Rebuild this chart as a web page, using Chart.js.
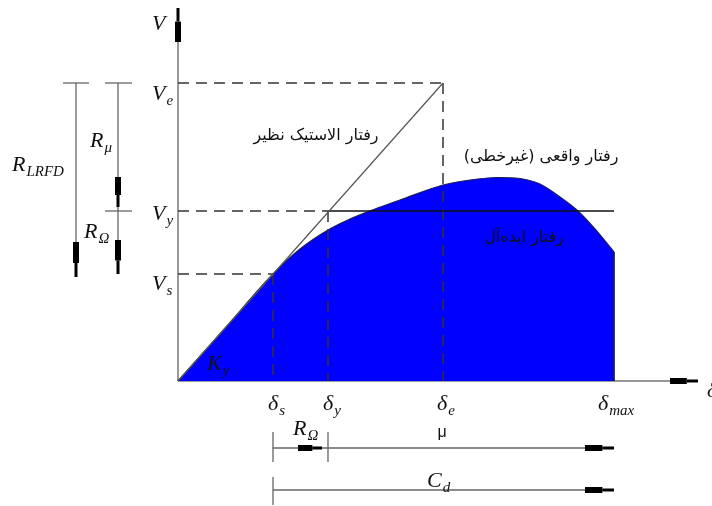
<!DOCTYPE html>
<html>
<head>
<meta charset="utf-8">
<script src="https://cdn.jsdelivr.net/npm/chart.js@4.4.1/dist/chart.umd.min.js"></script>
<style>
  html, body { margin: 0; background: #fff; }
  #wrap { width: 712px; height: 506px; }
</style>
</head>
<body>
<div id="wrap"><canvas id="c"></canvas></div>
<script>
// deformation marks on the δ axis and force levels on the V axis
const deltaSubs = ["s", "y", "e", "max"];
const deltaValues = [9.5, 15, 26.5, 43.6];
const vSubs = ["e", "y", "s"];
const vValues = [29.8, 17, 10.7];

// actual (nonlinear) response curve
const curveDelta = [0, 4.75, 9.5, 12.2, 15, 17.2, 19.7, 22.2, 26.5, 29.2, 31.9, 34.2, 36.2, 38.2, 40, 41.7, 43.6];
const curveV = [0, 5.34, 10.7, 13.2, 15.1, 16.2, 17.2, 18.1, 19.6, 20.1, 20.35, 20.25, 19.7, 18.4, 17, 15.2, 12.9];

const dS = deltaValues[0], dY = deltaValues[1], dE = deltaValues[2], dMax = deltaValues[3];
const vE = vValues[0], vY = vValues[1], vS = vValues[2];

const DARK = "#333";
const GREY = "#666";

function seg(pts, opts) {
  return Object.assign({
    data: pts.map(p => ({ x: p[0], y: p[1] })),
    showLine: true, pointRadius: 0, borderColor: GREY, borderWidth: 1.3,
    fill: false, clip: false, borderCapStyle: "butt"
  }, opts || {});
}

// arrow = thick body + thinner tip
const arrows = [];
function arrow(x1, y1, x2, y2) {
  const mx = x1 + (x2 - x1) * 0.6, my = y1 + (y2 - y1) * 0.6;
  arrows.push(
    seg([[x1, y1], [mx, my]], { borderColor: "#000", borderWidth: 6 }),
    seg([[mx, my], [x2, y2]], { borderColor: "#000", borderWidth: 3 })
  );
}

const dash = { borderColor: DARK, borderWidth: 1.5, borderDash: [11, 7] };

const lines = [];

// dimension lines at the left
lines.push(seg([[-11.5, vE], [-8.9, vE]]));
lines.push(seg([[-10.2, vE], [-10.2, 10.4]]));
arrow(-10.2, 13.9, -10.2, 10.4);
lines.push(seg([[-7.3, vE], [-4.6, vE]]));
lines.push(seg([[-7.3, vY], [-4.6, vY]]));
lines.push(seg([[-6.0, vE], [-6.0, vS]]));
arrow(-6.0, 20.4, -6.0, vY + 0.4);
arrow(-6.0, 14.1, -6.0, vS);

// dimension lines at the bottom
lines.push(seg([[dS, -5.1], [dS, -8.1]]));
lines.push(seg([[dY, -5.1], [dY, -8.1]]));
lines.push(seg([[dS, -6.7], [dMax, -6.7]]));
arrow(12.0, -6.7, 14.4, -6.7);
arrow(40.7, -6.7, dMax, -6.7);
lines.push(seg([[dS, -9.6], [dS, -12.4]]));
lines.push(seg([[dS, -10.9], [dMax, -10.9]]));
arrow(40.7, -10.9, dMax, -10.9);

// axis arrows
arrow(0, 33.9, 0, 37.3);
arrow(49.2, 0, 52.0, 0);

// elastic line and ideal line
lines.push(seg([[0, 0], [dE, vE]], { borderColor: "#555", borderWidth: 1.2 }));
lines.push(seg([[dY, vY], [dMax, vY]], { borderColor: "#111", borderWidth: 1.5 }));

// dashed guides
lines.push(seg([[0, vE], [dE, vE]], dash));
lines.push(seg([[dE, vE], [dE, 0]], dash));
lines.push(seg([[0, vY], [dY, vY]], dash));
lines.push(seg([[dY, vY], [dY, 0]], dash));
lines.push(seg([[0, vS], [dS, vS]], dash));
lines.push(seg([[dS, vS], [dS, 0]], dash));

// right edge of the filled curve
lines.push(seg([[dMax, curveV[curveV.length - 1]], [dMax, 0]], { borderColor: "#202040", borderWidth: 1 }));

// filled nonlinear curve
const curve = {
  data: curveDelta.map((d, i) => ({ x: d, y: curveV[i] })),
  showLine: true, pointRadius: 0, clip: false,
  cubicInterpolationMode: "monotone",
  borderColor: "#1c1c5a", borderWidth: 1.2,
  backgroundColor: "#0000ff", fill: "origin"
};

// axes (under the fill)
const axes = [
  seg([[0, 0], [0, 34]], { borderColor: "#777", borderWidth: 1.5 }),
  seg([[0, 0], [50, 0]], { borderColor: "#777", borderWidth: 1.5 })
];

// first item in the list is drawn on top
const datasets = arrows.concat(lines, [curve], axes);

// text: [main, subscript, x, y]
const mathLabels = [
  ["V", "", -2.6, 35.1],
  ["V", vSubs[0], -2.6, 28.1],
  ["V", vSubs[1], -2.6, 16.1],
  ["V", vSubs[2], -2.6, 9.1],
  ["δ", deltaSubs[0], 9.0, -2.9],
  ["δ", deltaSubs[1], 14.5, -2.9],
  ["δ", deltaSubs[2], 25.9, -2.9],
  ["δ", deltaSubs[3], 42.0, -2.9],
  ["δ", "", 52.9, -1.6],
  ["K", "y", 2.9, 1.1],
  ["R", "LRFD", -16.6, 21.0],
  ["R", "μ", -8.8, 23.4],
  ["R", "Ω", -9.4, 14.3],
  ["R", "Ω", 11.5, -5.4],
  ["C", "d", 24.9, -10.6]
];
const persianLabels = [
  ["رفتار الاستیک نظیر", 13.8, 24.5],
  ["رفتار واقعی (غیرخطی)", 36.3, 22.4],
  ["رفتار ایده‌آل", 34.6, 14.3]
];

const textPlugin = {
  id: "diagramText",
  afterDatasetsDraw(chart) {
    const ctx = chart.ctx, xs = chart.scales.x, ys = chart.scales.y;
    ctx.save();
    ctx.fillStyle = "#111";
    ctx.textBaseline = "alphabetic";
    ctx.textAlign = "left";
    mathLabels.forEach(l => {
      const px = xs.getPixelForValue(l[2]), py = ys.getPixelForValue(l[3]);
      ctx.font = "italic 22px 'Liberation Serif'";
      ctx.fillText(l[0], px, py);
      const w = ctx.measureText(l[0]).width;
      if (l[1]) {
        ctx.font = "italic 15px 'Liberation Serif'";
        ctx.fillText(l[1], px + w + 1, py + 5);
      }
    });
    ctx.font = "16px 'Liberation Sans'";
    ctx.textAlign = "center";
    ctx.fillText("μ", xs.getPixelForValue(26.4), ys.getPixelForValue(-5.6));
    ctx.direction = "rtl";
    ctx.textBaseline = "middle";
    ctx.font = "16px 'DejaVu Sans'";
    persianLabels.forEach(l => {
      ctx.fillText(l[0], xs.getPixelForValue(l[1]), ys.getPixelForValue(l[2]));
    });
    ctx.restore();
  }
};

new Chart(document.getElementById("c"), {
  type: "scatter",
  data: { datasets: datasets },
  options: {
    responsive: true,
    maintainAspectRatio: false,
    animation: false,
    events: [],
    layout: { padding: 0 },
    scales: {
      x: { type: "linear", display: false, min: -17.8, max: 53.4 },
      y: { type: "linear", display: false, min: -12.5, max: 38.1 }
    },
    plugins: { legend: { display: false }, tooltip: { enabled: false } }
  },
  plugins: [textPlugin]
});
</script>
</body>
</html>
